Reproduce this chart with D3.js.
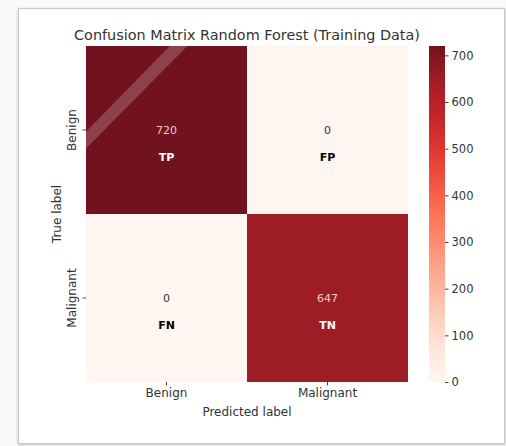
<!DOCTYPE html>
<html>
<head>
<meta charset="utf-8">
<script src="https://cdn.jsdelivr.net/npm/d3@7"></script>
<style>
  body { margin: 0; background: #fafafa; }
  #card {
    position: absolute; left: 18px; top: 8px; width: 485px; height: 434px;
    background: #fff; border: 1px solid #c8c8c8; box-shadow: 0 1px 3px rgba(0,0,0,0.25);
  }
  svg { position: absolute; left: 0; top: 0; font-family: "DejaVu Sans", sans-serif; }
</style>
</head>
<body>
<div id="card"></div>
<div id="chart"></div>
<script>
// Data
const classes = ["Benign", "Malignant"];
const matrix = [
  [720, 0],
  [0, 647]
];
const cellTags = [
  ["TP", "FP"],
  ["FN", "TN"]
];
const barTicks = [0, 100, 200, 300, 400, 500, 600, 700];
const maxCount = 720;

const W = 506, H = 446;
const M = { top: 46, left: 86 };
const innerW = 322, innerH = 336;

const svg = d3.select("#chart").append("svg")
  .attr("width", W)
  .attr("height", H);

const x = d3.scaleBand().domain(classes).range([0, innerW]);
const y = d3.scaleBand().domain(classes).range([0, innerH]);
const reds = d3.scaleSequential(d3.interpolateReds).domain([0, maxCount]);
// photo looks a bit washed out, so lift the reds slightly toward white
const color = v => d3.interpolateRgb(reds(v), "#fff")(0.07);

const g = svg.append("g")
  .attr("transform", `translate(${M.left}, ${M.top})`);

const cells = [];
matrix.forEach((row, i) => row.forEach((v, j) => {
  cells.push({ trueLbl: classes[i], predLbl: classes[j], v, tag: cellTags[i][j] });
}));

g.selectAll("rect.cell")
  .data(cells)
  .join("rect")
  .attr("class", "cell")
  .attr("x", d => x(d.predLbl))
  .attr("y", d => y(d.trueLbl))
  .attr("width", x.bandwidth())
  .attr("height", y.bandwidth())
  .attr("fill", d => color(d.v));

// glare streak seen across the top-left cell of the photo
const bx = x(classes[0]), by = y(classes[0]);
const bw = x.bandwidth(), bh = y.bandwidth();
g.append("clipPath").attr("id", "tlclip")
  .append("rect").attr("x", bx).attr("y", by).attr("width", bw).attr("height", bh);
g.append("polygon")
  .attr("clip-path", "url(#tlclip)")
  .attr("points", [
    [bx, by + bh * 0.51], [bx + bw * 0.52, by],
    [bx + bw * 0.63, by], [bx, by + bh * 0.61]
  ].map(p => p.join(",")).join(" "))
  .attr("fill", "#fff")
  .attr("opacity", 0.2);

const light = d => d.v > maxCount / 2;

g.selectAll("text.val")
  .data(cells)
  .join("text")
  .attr("class", "val")
  .attr("x", d => x(d.predLbl) + bw / 2)
  .attr("y", d => y(d.trueLbl) + bh / 2)
  .attr("dy", "0.35em")
  .attr("text-anchor", "middle")
  .attr("font-size", 11)
  .attr("fill", d => light(d) ? "#f2c9c4" : "#333")
  .text(d => d.v);

g.selectAll("text.tag")
  .data(cells)
  .join("text")
  .attr("class", "tag")
  .attr("x", d => x(d.predLbl) + bw / 2)
  .attr("y", d => y(d.trueLbl) + bh / 2 + 27)
  .attr("dy", "0.35em")
  .attr("text-anchor", "middle")
  .attr("font-size", 11)
  .attr("font-weight", "bold")
  .attr("fill", d => light(d) ? "#fff" : "#000")
  .text(d => d.tag);

// Axes
const xAxis = g.append("g")
  .attr("transform", `translate(0, ${innerH})`)
  .call(d3.axisBottom(x).tickSize(3.5).tickPadding(3));
const yAxis = g.append("g")
  .call(d3.axisLeft(y).tickSize(3.5).tickPadding(3));
[xAxis, yAxis].forEach(a => {
  a.select(".domain").remove();
  a.selectAll("line").attr("stroke", "#444");
  a.selectAll("text").attr("font-size", 12).attr("fill", "#333")
    .attr("font-family", "DejaVu Sans, sans-serif");
});
yAxis.selectAll("text")
  .attr("transform", "rotate(-90)")
  .attr("text-anchor", "middle")
  .attr("x", 0)
  .attr("y", -10)
  .attr("dy", "0");

g.append("text")
  .attr("x", innerW / 2)
  .attr("y", innerH + 34)
  .attr("text-anchor", "middle")
  .attr("font-size", 12)
  .attr("fill", "#333")
  .text("Predicted label");

g.append("text")
  .attr("transform", `translate(-25, ${innerH / 2}) rotate(-90)`)
  .attr("text-anchor", "middle")
  .attr("font-size", 12)
  .attr("fill", "#333")
  .text("True label");

svg.append("text")
  .attr("x", M.left + innerW / 2)
  .attr("y", 40)
  .attr("text-anchor", "middle")
  .attr("font-size", 14.4)
  .attr("fill", "#333")
  .text("Confusion Matrix Random Forest (Training Data)");

// Colorbar
const cbX = 429, cbW = 16;
const cy = d3.scaleLinear().domain([0, maxCount]).range([M.top + innerH, M.top]);
const grad = svg.append("defs").append("linearGradient")
  .attr("id", "cbgrad").attr("x1", 0).attr("y1", 1).attr("x2", 0).attr("y2", 0);
d3.range(0, 1.0001, 0.05).forEach(t => {
  grad.append("stop").attr("offset", t).attr("stop-color", color(t * maxCount));
});
svg.append("rect")
  .attr("x", cbX).attr("y", M.top)
  .attr("width", cbW).attr("height", innerH)
  .attr("fill", "url(#cbgrad)");

const cAxis = svg.append("g")
  .attr("transform", `translate(${cbX + cbW}, 0)`)
  .call(d3.axisRight(cy).tickValues(barTicks).tickSize(3.5).tickPadding(3));
cAxis.select(".domain").remove();
cAxis.selectAll("line").attr("stroke", "#444");
cAxis.selectAll("text").attr("font-size", 11.5).attr("fill", "#333")
  .attr("font-family", "DejaVu Sans, sans-serif");
</script>
</body>
</html>
